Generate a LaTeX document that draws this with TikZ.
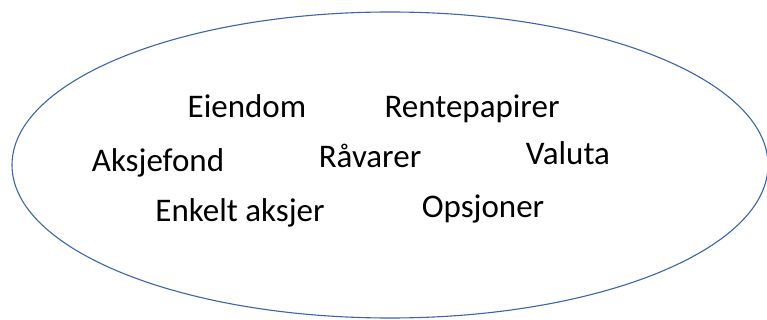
\documentclass[tikz,border=0pt]{standalone}
\usepackage{fontspec}
\setmainfont{Carlito}
\definecolor{rim}{RGB}{60,100,170}

\begin{document}
\begin{tikzpicture}[x=1pt,y=1pt,
    asset/.style={anchor=base,inner sep=0pt,font=\fontsize{33}{40}\selectfont}]
        \clip (0,0) rectangle (767,-320);
        \useasboundingbox (0,0) rectangle (767,-320);
        \draw[rim,line width=1.1pt] (390,-165) ellipse [x radius=378, y radius=153];
        \foreach \n/\x/\y/\t in {eiendom/247/118/Eiendom, rente/472/118/Rentepapirer,
          aksjefond/158/172/Aksjefond, raavarer/370/168/Råvarer, valuta/568/165/Valuta,
          enkelt/240/222/Enkelt aksjer, opsjoner/483/218/Opsjoner}
          \node[asset] (\n) at (\x,-\y) {\t};
      \end{tikzpicture}
\end{document}
